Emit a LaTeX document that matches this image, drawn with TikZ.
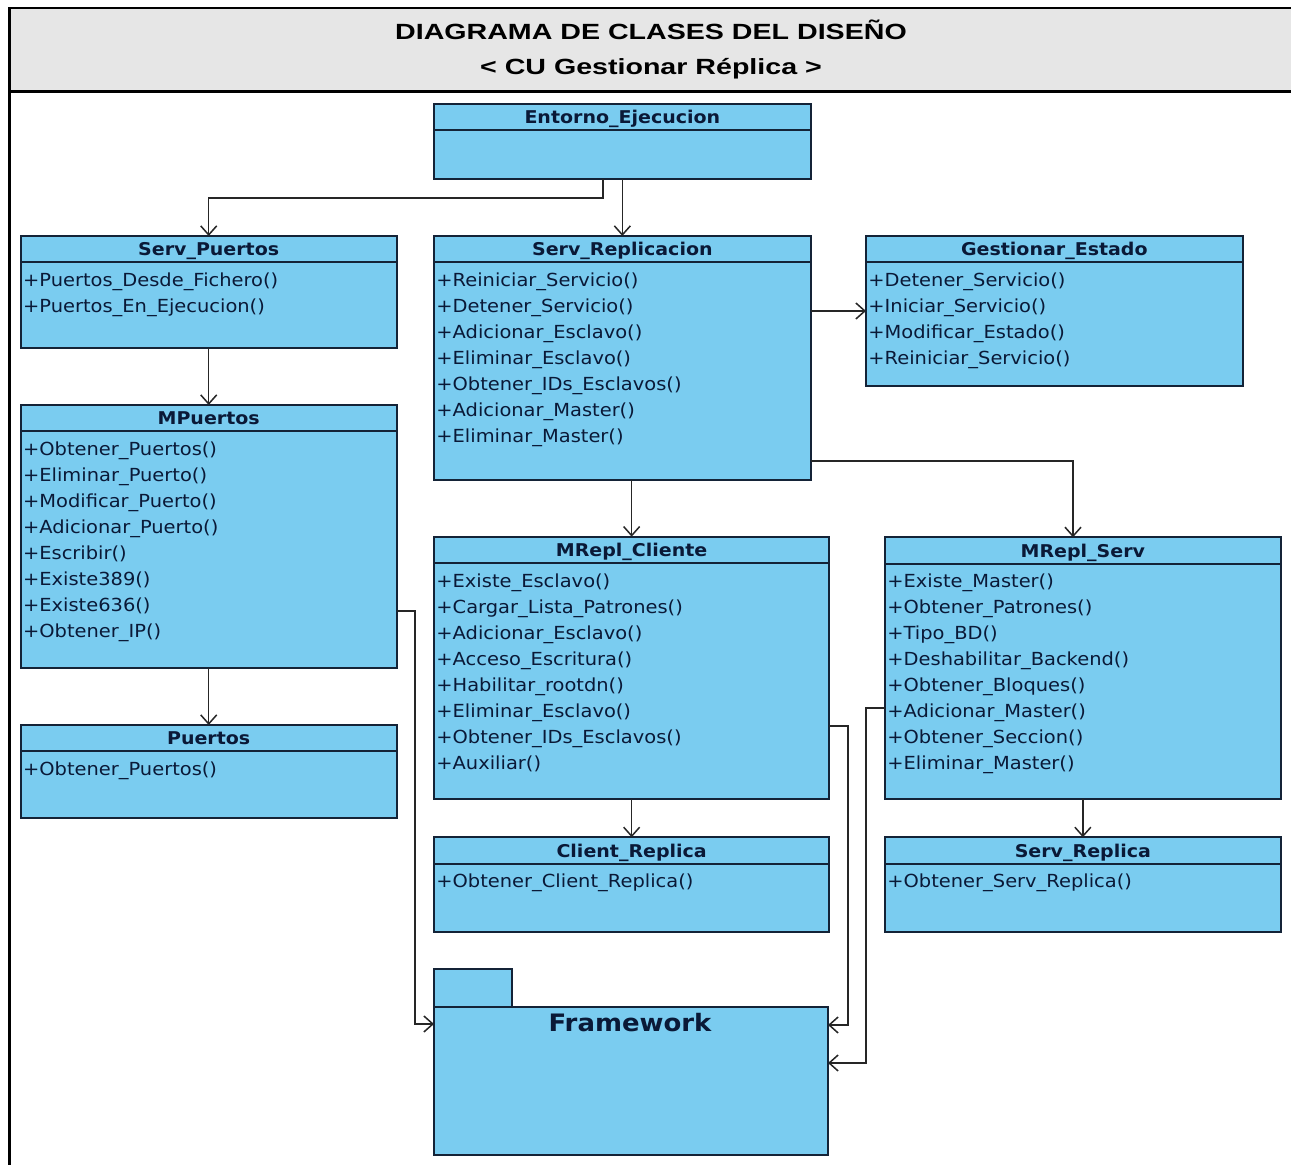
\documentclass[tikz,border=0pt]{standalone}
\usepackage{fontspec}
\usetikzlibrary{arrows.meta}

\newfontfamily\umlfont[FakeStretch=1.08]{DejaVu Sans}
\newfontfamily\hdrfont[FakeStretch=1.3]{Liberation Sans}

\definecolor{classfill}{RGB}{122,204,240}
\definecolor{classline}{RGB}{20,35,55}
\definecolor{classtext}{RGB}{10,25,55}
\definecolor{bandgray}{RGB}{230,230,230}

\tikzset{
  umlbox/.style={draw=classline, fill=classfill, line width=0.9pt, inner sep=0pt,
                 anchor=north west, outer sep=0pt},
  classname/.style={font=\umlfont\bfseries\fontsize{8.8}{10}\selectfont, text=classtext,
                    anchor=base, inner sep=0pt},
  opline/.style={font=\umlfont\fontsize{9}{10}\selectfont, text=classtext,
                 anchor=base west, inner sep=0pt},
  conn/.style={draw=black!85, line width=0.75pt,
               -{Straight Barb[length=4.5pt,width=8pt,line width=0.75pt]}},
  sepline/.style={draw=classline, line width=1pt},
  titletext/.style={font=\hdrfont\bfseries\fontsize{11}{13}\selectfont, anchor=base, inner sep=0pt},
}

% \umlclass{id}{x1}{y1}{x2}{y2}{name}{operations}
\newcommand\umlclass[7]{%
  \node[umlbox, minimum width={(#4-#2)*0.5pt}, minimum height={(#5-#3)*0.5pt}]
       (#1) at (#2,#3) {};
  \draw[sepline] ([yshift=-13.25pt]#1.north west) -- ([yshift=-13.25pt]#1.north east);
  \node[classname] (#1-name) at ([yshift=-10pt]#1.north) {#6};
  \foreach \op [count=\i] in {#7} {
    \node[opline] (#1-op\i) at ([xshift=1pt, yshift={-25.25pt-(\i-1)*13pt}]#1.north west) {\op};
  }%
}

\begin{document}
\begin{tikzpicture}[x=0.5pt, y=-0.5pt]
  \useasboundingbox (0,0) rectangle (1291,1165);
  \fill[white] (0,0) rectangle (1291,1165);

  % page frame and title band
  \fill[bandgray] (9,8) rectangle (1291,92);
  \draw[line width=1pt] (9,8) -- (1291,8);
  \draw[line width=1.5pt] (9,92) -- (1291,92);
  \draw[line width=1.5pt] (9,7.5) -- (9,1165);
  \node[titletext] (title1) at (651,40) {DIAGRAMA DE CLASES DEL DISEÑO};
  \node[titletext] (title2) at (651,75) {< CU Gestionar Réplica >};

  % classes
  \umlclass{ent}{434}{104}{810.7}{179.3}{Entorno\_Ejecucion}{}
  \umlclass{sp}{20.7}{236}{396.7}{348}{Serv\_Puertos}
    {+Puertos\_Desde\_Fichero(), +Puertos\_En\_Ejecucion()}
  \umlclass{sr}{434}{236}{810.7}{480}{Serv\_Replicacion}
    {+Reiniciar\_Servicio(), +Detener\_Servicio(), +Adicionar\_Esclavo(),
     +Eliminar\_Esclavo(), +Obtener\_IDs\_Esclavos(), +Adicionar\_Master(),
     +Eliminar\_Master()}
  \umlclass{ge}{866}{236}{1242.7}{386}{Gestionar\_Estado}
    {+Detener\_Servicio(), +Iniciar\_Servicio(), +Modificar\_Estado(),
     +Reiniciar\_Servicio()}
  \umlclass{mp}{20.7}{405}{396.7}{667.7}{MPuertos}
    {+Obtener\_Puertos(), +Eliminar\_Puerto(), +Modificar\_Puerto(),
     +Adicionar\_Puerto(), +Escribir(), +Existe389(), +Existe636(), +Obtener\_IP()}
  \umlclass{pu}{20.7}{725}{396.7}{818.3}{Puertos}{+Obtener\_Puertos()}
  \umlclass{mrc}{434}{536.7}{829.3}{799.3}{MRepl\_Cliente}
    {+Existe\_Esclavo(), +Cargar\_Lista\_Patrones(), +Adicionar\_Esclavo(),
     +Acceso\_Escritura(), +Habilitar\_rootdn(), +Eliminar\_Esclavo(),
     +Obtener\_IDs\_Esclavos(), +Auxiliar()}
  \umlclass{mrs}{885}{537.3}{1280.7}{799.3}{MRepl\_Serv}
    {+Existe\_Master(), +Obtener\_Patrones(), +Tipo\_BD(), +Deshabilitar\_Backend(),
     +Obtener\_Bloques(), +Adicionar\_Master(), +Obtener\_Seccion(), +Eliminar\_Master()}
  \umlclass{cr}{434}{837.3}{829.3}{931.7}{Client\_Replica}{+Obtener\_Client\_Replica()}
  \umlclass{srp}{885}{837.3}{1280.7}{931.7}{Serv\_Replica}{+Obtener\_Serv\_Replica()}

  % Framework package
  \node[umlbox, minimum width={78*0.5pt}, minimum height={38*0.5pt}] (fwt) at (434,969) {};
  \node[umlbox, minimum width={394*0.5pt}, minimum height={148*0.5pt}] (fwb) at (434,1007) {};
  \node[font=\umlfont\bfseries\fontsize{12}{14}\selectfont, text=classtext,
        anchor=base, inner sep=0pt] (fwl) at (630,1031.7) {Framework};

  % bend points of the connectors
  \coordinate (j1) at (603,198);
  \coordinate (j3) at (0,311);
  \coordinate (j5) at (1073,461);
  \coordinate (j8a) at (0,611);
  \coordinate (j8) at (415,1024);
  \coordinate (j11a) at (0,726);
  \coordinate (j11) at (848,1025);
  \coordinate (j12a) at (0,708);
  \coordinate (j12) at (866,1063);

  % dependencies
  \draw[conn] (ent.south -| j1) -- (j1) -| (sp.north);
  \draw[conn] (ent.south) -- (sr.north);
  \draw[conn] (sr.east |- j3) -- (ge.west |- j3);
  \draw[conn] (sr.south -| mrc.north) -- (mrc.north);
  \draw[conn] (sr.east |- j5) -| (mrs.north -| j5);
  \draw[conn] (sp.south) -- (mp.north);
  \draw[conn] (mp.south) -- (pu.north);
  \draw[conn] (mp.east |- j8a) -| (j8) -- (fwb.west |- j8);
  \draw[conn] (mrc.south) -- (cr.north);
  \draw[conn] (mrs.south) -- (srp.north);
  \draw[conn] (mrc.east |- j11a) -| (j11) -- (fwb.east |- j11);
  \draw[conn] (mrs.west |- j12a) -| (j12) -- (fwb.east |- j12);
\end{tikzpicture}
\end{document}
